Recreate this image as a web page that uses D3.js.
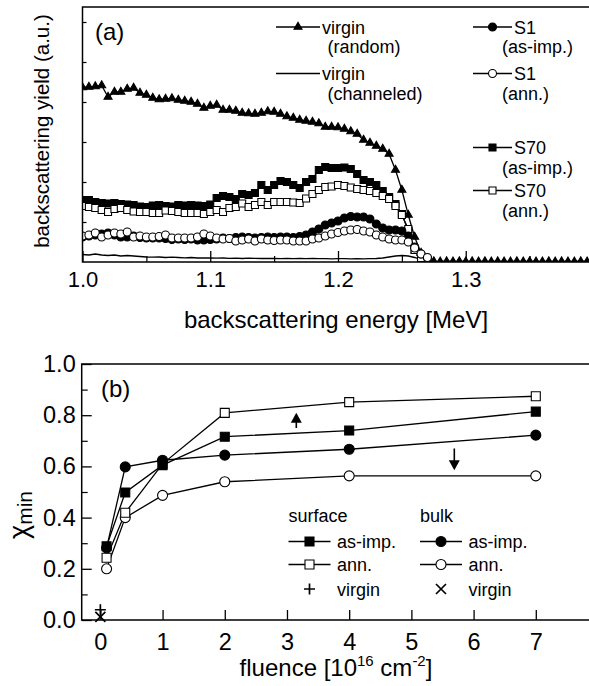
<!DOCTYPE html>
<html>
<head>
<meta charset="utf-8">
<script src="https://cdn.jsdelivr.net/npm/d3@7"></script>
<style>
  body { margin: 0; background: #fff; }
  svg { display: block; font-family: "Liberation Sans", Arial, sans-serif; }
</style>
</head>
<body>
<svg id="chart" width="589" height="686"></svg>
<script>
// ---- panel (a): RBS spectra, one value per 5 keV channel starting at 1.000 MeV ----
const channelStart = 1.0;
const channelWidth = 0.005;

const randomYield = [
  1.745, 1.75, 1.755, 1.765, 1.65, 1.70, 1.70, 1.73, 1.74, 1.69,
  1.67, 1.64, 1.625, 1.63, 1.635, 1.62, 1.61, 1.60, 1.58, 1.54,
  1.56, 1.57, 1.52, 1.52, 1.51, 1.49, 1.485, 1.48, 1.49, 1.505,
  1.50, 1.48, 1.455, 1.44, 1.42, 1.41, 1.40, 1.385, 1.35, 1.35,
  1.345, 1.33, 1.305, 1.28, 1.22, 1.19, 1.16, 1.13, 1.08, 0.92,
  0.72, 0.47, 0.25, 0.09, 0.025, 0.006, 0.003, 0.005, 0.004, 0.006,
  0.003, 0.005, 0.004, 0.006, 0.003, 0.005, 0.004, 0.003, 0.006, 0.004,
  0.005, 0.003, 0.004, 0.006, 0.003, 0.005, 0.004, 0.003, 0.005, 0.004
];
const channeledYield = [
  0.075, 0.07, 0.08, 0.07, 0.065, 0.07, 0.06, 0.065, 0.06, 0.055,
  0.05, 0.048, 0.05, 0.045, 0.048, 0.045, 0.042, 0.045, 0.04, 0.042,
  0.04, 0.038, 0.04, 0.036, 0.038, 0.035, 0.038, 0.036, 0.035, 0.037,
  0.035, 0.034, 0.036, 0.033, 0.035, 0.034, 0.035, 0.033, 0.034, 0.032,
  0.034, 0.033, 0.032, 0.034, 0.032, 0.033, 0.035, 0.04, 0.05, 0.06,
  0.065, 0.06, 0.045, 0.025, 0.012, 0.008, 0.007, 0.008, 0.006, 0.007,
  0.008, 0.007, 0.006, 0.007, 0.007, 0.008, 0.006, 0.007, 0.007, 0.006,
  0.007, 0.008, 0.007, 0.006, 0.007, 0.007, 0.006, 0.007, 0.008, 0.007
];
const s1AsImp = [
  0.25, 0.26, 0.27, 0.28, 0.29, 0.27, 0.25, 0.25, 0.26, 0.245,
  0.24, 0.24, 0.24, 0.235, 0.225, 0.23, 0.225, 0.23, 0.22, 0.22,
  0.225, 0.23, 0.24, 0.235, 0.245, 0.25, 0.245, 0.24, 0.245, 0.25,
  0.245, 0.25, 0.25, 0.245, 0.255, 0.27, 0.30, 0.33, 0.37, 0.39,
  0.41, 0.44, 0.455, 0.45, 0.45, 0.43, 0.38, 0.34, 0.32, 0.32,
  0.31, 0.26, 0.15, 0.08, 0.04
];
const s1Ann = [
  0.26, 0.27, 0.29, 0.25, 0.27, 0.29, 0.28, 0.30, 0.25, 0.26,
  0.25, 0.25, 0.255, 0.27, 0.24, 0.24, 0.24, 0.24, 0.25, 0.28,
  0.26, 0.24, 0.23, 0.235, 0.21, 0.22, 0.23, 0.21, 0.23, 0.22,
  0.215, 0.22, 0.22, 0.21, 0.21, 0.21, 0.23, 0.24, 0.26, 0.28,
  0.295, 0.31, 0.32, 0.325, 0.31, 0.30, 0.27, 0.25, 0.23, 0.22,
  0.22, 0.20, 0.14, 0.08, 0.045
];
const s70AsImp = [
  0.62, 0.62, 0.60, 0.59, 0.585, 0.59, 0.58, 0.575, 0.57, 0.555,
  0.55, 0.565, 0.57, 0.56, 0.555, 0.57, 0.565, 0.57, 0.565, 0.56,
  0.575, 0.64, 0.66, 0.65, 0.63, 0.68, 0.67, 0.69, 0.77, 0.72,
  0.77, 0.81, 0.80, 0.77, 0.74, 0.80, 0.83, 0.92, 0.95, 0.94,
  0.94, 0.945, 0.93, 0.88, 0.82, 0.80, 0.77, 0.71, 0.65, 0.58,
  0.48, 0.31, 0.12, 0.04
];
const s70Ann = [
  0.56, 0.55, 0.54, 0.52, 0.50, 0.53, 0.54, 0.52, 0.505, 0.50,
  0.50, 0.49, 0.49, 0.515, 0.51, 0.50, 0.49, 0.49, 0.49, 0.48,
  0.50, 0.52, 0.50, 0.54, 0.55, 0.585, 0.55, 0.57, 0.60, 0.57,
  0.60, 0.60, 0.60, 0.595, 0.59, 0.635, 0.68, 0.72, 0.75, 0.755,
  0.77, 0.76, 0.745, 0.73, 0.72, 0.71, 0.69, 0.66, 0.63, 0.56,
  0.47, 0.33, 0.12, 0.04
];
const energyTicks = [1.0, 1.1, 1.2, 1.3];
const energyMinorTicks = [1.05, 1.15, 1.25, 1.35];
const yieldTicks = [0.4, 0.8, 1.2, 1.6, 2.0, 2.4];

// ---- panel (b): minimum yield vs fluence ----
const fluence = [0.1, 0.4, 1, 2, 4, 7];
const surfaceAsImp = [0.288, 0.498, 0.605, 0.716, 0.74, 0.814];
const surfaceAnn = [0.243, 0.419, 0.61, 0.809, 0.851, 0.874];
const bulkAsImp = [0.282, 0.598, 0.624, 0.644, 0.667, 0.722];
const bulkAnn = [0.20, 0.40, 0.487, 0.54, 0.563, 0.563];
const virginSurface = { fluence: 0, chi: 0.04 };
const virginBulk = { fluence: 0, chi: 0.012 };
const fluenceTicks = [0, 1, 2, 3, 4, 5, 6, 7];
const chiTicks = [0.0, 0.2, 0.4, 0.6, 0.8, 1.0];
const chiMinorTicks = [0.1, 0.3, 0.5, 0.7, 0.9];

const svg = d3.select("#chart");

function drawMarker(g, type, x, y, size) {
  const filled = !type.endsWith("Open");
  if (type === "plus" || type === "cross") {
    const h = size / 2;
    const p = type === "plus"
      ? `M${x - h},${y}H${x + h}M${x},${y - h}V${y + h}`
      : `M${x - h},${y - h}L${x + h},${y + h}M${x - h},${y + h}L${x + h},${y - h}`;
    g.append("path").attr("d", p).attr("stroke", "#000").attr("stroke-width", 1.7).attr("fill", "none");
    return;
  }
  let sym, area;
  if (type === "triangle") { sym = d3.symbolTriangle; area = 0.433 * size * size; }
  else if (type.startsWith("square")) { sym = d3.symbolSquare; area = size * size; }
  else { sym = d3.symbolCircle; area = Math.PI * size * size / 4; }
  g.append("path")
    .attr("d", d3.symbol(sym, area)())
    .attr("transform", `translate(${x},${y})`)
    .attr("fill", filled ? "#000" : "#fff")
    .attr("stroke", "#000")
    .attr("stroke-width", 1.1);
}

// ================= panel (a) =================
const xA = d3.scaleLinear([1.0, 1.4], [82.5, 593.5]);
const yA = d3.scaleLinear([0, 2.55], [262, 7]);
const gA = svg.append("g");

svg.append("defs").append("clipPath").attr("id", "clipA")
  .append("rect").attr("x", xA(1.0)).attr("y", yA(2.55))
  .attr("width", xA(1.4) - xA(1.0)).attr("height", yA(0) - yA(2.55));

function spectrum(values) {
  return values.map((v, i) => [channelStart + i * channelWidth, v]);
}
const lineA = d3.line().x(d => xA(d[0])).y(d => yA(d[1]));

const seriesA = [
  { values: channeledYield, marker: null, size: 0 },
  { values: randomYield, marker: "triangle", size: 8 },
  { values: s70AsImp, marker: "square", size: 7 },
  { values: s70Ann, marker: "squareOpen", size: 7 },
  { values: s1AsImp, marker: "circle", size: 8 },
  { values: s1Ann, marker: "circleOpen", size: 8 }
];
const plotA = gA.append("g").attr("clip-path", "url(#clipA)");
seriesA.forEach(s => {
  const pts = spectrum(s.values);
  plotA.append("path").attr("d", lineA(pts)).attr("fill", "none")
    .attr("stroke", "#000").attr("stroke-width", 1.3);
  if (s.marker) {
    const mg = plotA.append("g");
    pts.forEach(p => drawMarker(mg, s.marker, xA(p[0]), yA(p[1]), s.size));
  }
});

// frame and ticks
gA.append("path")
  .attr("d", `M${xA(1.4)},${yA(2.55)}H${xA(1.0)}V${yA(0)}H${xA(1.4)}`)
  .attr("fill", "none").attr("stroke", "#000").attr("stroke-width", 1.5);

const axA = gA.append("g").attr("transform", `translate(0,${yA(0)})`)
  .call(d3.axisBottom(xA).tickValues(energyTicks).tickFormat(d3.format(".1f"))
    .tickSizeInner(-11).tickSizeOuter(0).tickPadding(9));
axA.select(".domain").remove();
axA.selectAll("text").attr("font-size", 22).attr("font-family", "Liberation Sans, Arial, sans-serif");
axA.selectAll("line").attr("stroke-width", 1.3);

const axAminor = gA.append("g").attr("transform", `translate(0,${yA(0)})`)
  .call(d3.axisBottom(xA).tickValues(energyMinorTicks).tickFormat("").tickSizeInner(-6).tickSizeOuter(0));
axAminor.select(".domain").remove();
axAminor.selectAll("line").attr("stroke-width", 1.2);

const ayA = gA.append("g").attr("transform", `translate(${xA(1.0)},0)`)
  .call(d3.axisLeft(yA).tickValues(yieldTicks).tickFormat("").tickSizeInner(-4).tickSizeOuter(0));
ayA.select(".domain").remove();
ayA.selectAll("line").attr("stroke-width", 1.2);

gA.append("text").attr("x", 95).attr("y", 40).attr("font-size", 24).text("(a)");

gA.append("text").attr("x", 336).attr("y", 328).attr("text-anchor", "middle")
  .attr("font-size", 24).text("backscattering energy [MeV]");
gA.append("text").attr("transform", "translate(49,131) rotate(-90)")
  .attr("text-anchor", "middle").attr("font-size", 20.5).text("backscattering yield (a.u.)");

// legend (a)
const legA = [
  { x: 276, y: 27, marker: "triangle", size: 8, name: "virgin", sub: "(random)", subX: 327.5 },
  { x: 276, y: 73.5, marker: null, size: 0, name: "virgin", sub: "(channeled)", subX: 327.5 },
  { x: 473, y: 27, marker: "circle", size: 8, name: "S1", sub: "(as-imp.)", subX: 502 },
  { x: 473, y: 73.5, marker: "circleOpen", size: 8, name: "S1", sub: "(ann.)", subX: 502 },
  { x: 473, y: 147.5, marker: "square", size: 7, name: "S70", sub: "(as-imp.)", subX: 502 },
  { x: 473, y: 190.5, marker: "squareOpen", size: 7, name: "S70", sub: "(ann.)", subX: 502 }
];
legA.forEach(l => {
  const len = l.x < 400 ? 44 : 39;
  gA.append("line").attr("x1", l.x).attr("x2", l.x + len).attr("y1", l.y).attr("y2", l.y)
    .attr("stroke", "#000").attr("stroke-width", 1.3);
  if (l.marker) drawMarker(gA, l.marker, l.x + len / 2, l.y, l.size);
  gA.append("text").attr("x", l.x + len + 2).attr("y", l.y + 6.5).attr("font-size", 18).text(l.name);
  gA.append("text").attr("x", l.subX).attr("y", l.y + 26).attr("font-size", 18).text(l.sub);
});

// ================= panel (b) =================
const xB = d3.scaleLinear([-0.3, 8], [81.7, 598]);
const yB = d3.scaleLinear([0, 1], [620, 364]);
const gB = svg.append("g");

const lineB = d3.line().x(d => xB(d[0])).y(d => yB(d[1]));
const seriesB = [
  { values: bulkAnn, marker: "circleOpen", size: 10 },
  { values: surfaceAnn, marker: "squareOpen", size: 9 },
  { values: bulkAsImp, marker: "circle", size: 10 },
  { values: surfaceAsImp, marker: "square", size: 9 }
];
seriesB.forEach(s => {
  const pts = fluence.map((f, i) => [f, s.values[i]]);
  gB.append("path").attr("d", lineB(pts)).attr("fill", "none")
    .attr("stroke", "#000").attr("stroke-width", 1.3);
});
seriesB.forEach(s => {
  fluence.forEach((f, i) => drawMarker(gB, s.marker, xB(f), yB(s.values[i]), s.size));
});
drawMarker(gB, "plus", xB(virginSurface.fluence), yB(virginSurface.chi), 11);
drawMarker(gB, "cross", xB(virginBulk.fluence), yB(virginBulk.chi), 10);

// arrows
function arrow(x, y1, y2) {
  const dir = y2 < y1 ? -1 : 1;
  gB.append("line").attr("x1", x).attr("x2", x).attr("y1", y1).attr("y2", y2 - dir * 8)
    .attr("stroke", "#000").attr("stroke-width", 1.6);
  gB.append("path").attr("d", `M${x - 5.5},${y2 - dir * 10}L${x + 5.5},${y2 - dir * 10}L${x},${y2}Z`).attr("fill", "#000");
}
arrow(xB(3.15), yB(0.75), yB(0.81));
arrow(xB(5.69), yB(0.67), yB(0.585));

gB.append("path")
  .attr("d", `M${xB(8)},${yB(1)}H${xB(-0.3)}V${yB(0)}H${xB(8)}`)
  .attr("fill", "none").attr("stroke", "#000").attr("stroke-width", 1.5);

const axB = gB.append("g").attr("transform", `translate(0,${yB(0)})`)
  .call(d3.axisBottom(xB).tickValues(fluenceTicks).tickFormat(d3.format("d"))
    .tickSizeInner(-10).tickSizeOuter(0).tickPadding(13));
axB.select(".domain").remove();
axB.selectAll("text").attr("font-size", 23.5).attr("font-family", "Liberation Sans, Arial, sans-serif");
axB.selectAll("line").attr("stroke-width", 1.3);

const ayB = gB.append("g").attr("transform", `translate(${xB(-0.3)},0)`)
  .call(d3.axisLeft(yB).tickValues(chiTicks).tickFormat(d3.format(".1f"))
    .tickSizeInner(-10).tickSizeOuter(0).tickPadding(6));
ayB.select(".domain").remove();
ayB.selectAll("text").attr("font-size", 23.5).attr("font-family", "Liberation Sans, Arial, sans-serif");
ayB.selectAll("line").attr("stroke-width", 1.3);

const ayBminor = gB.append("g").attr("transform", `translate(${xB(-0.3)},0)`)
  .call(d3.axisLeft(yB).tickValues(chiMinorTicks).tickFormat("").tickSizeInner(-6).tickSizeOuter(0));
ayBminor.select(".domain").remove();
ayBminor.selectAll("line").attr("stroke-width", 1.2);

gB.append("text").attr("x", 101).attr("y", 397).attr("font-size", 24).text("(b)");

const fl = gB.append("text").attr("x", 336).attr("y", 676).attr("text-anchor", "middle").attr("font-size", 24);
fl.append("tspan").text("fluence [10");
fl.append("tspan").attr("font-size", 15).attr("dy", -10).text("16");
fl.append("tspan").attr("dy", 10).text(" cm");
fl.append("tspan").attr("font-size", 15).attr("dy", -10).text("-2");
fl.append("tspan").attr("dy", 10).text("]");

const chi = gB.append("text").attr("transform", "translate(28,515) rotate(-90)")
  .attr("text-anchor", "middle");
chi.append("tspan").attr("font-size", 27).text("χ");
chi.append("tspan").attr("font-size", 21).attr("dy", 4).text("min");

// legend (b)
gB.append("text").attr("x", 288.5).attr("y", 522).attr("font-size", 18).text("surface");
gB.append("text").attr("x", 420).attr("y", 522).attr("font-size", 18).text("bulk");
const legB = [
  { x: 288.5, y: 541.5, marker: "square", size: 9, label: "as-imp.", line: true },
  { x: 288.5, y: 564.5, marker: "squareOpen", size: 9, label: "ann.", line: true },
  { x: 288.5, y: 589, marker: "plus", size: 11, label: "virgin", line: false },
  { x: 420, y: 541.5, marker: "circle", size: 10, label: "as-imp.", line: true },
  { x: 420, y: 564.5, marker: "circleOpen", size: 10, label: "ann.", line: true },
  { x: 420, y: 589, marker: "cross", size: 10, label: "virgin", line: false }
];
legB.forEach(l => {
  if (l.line) {
    gB.append("line").attr("x1", l.x).attr("x2", l.x + 42).attr("y1", l.y).attr("y2", l.y)
      .attr("stroke", "#000").attr("stroke-width", 1.3);
  }
  drawMarker(gB, l.marker, l.x + 21, l.y, l.size);
  gB.append("text").attr("x", l.x + 48.5).attr("y", l.y + 6.5).attr("font-size", 18).text(l.label);
});
</script>
</body>
</html>
